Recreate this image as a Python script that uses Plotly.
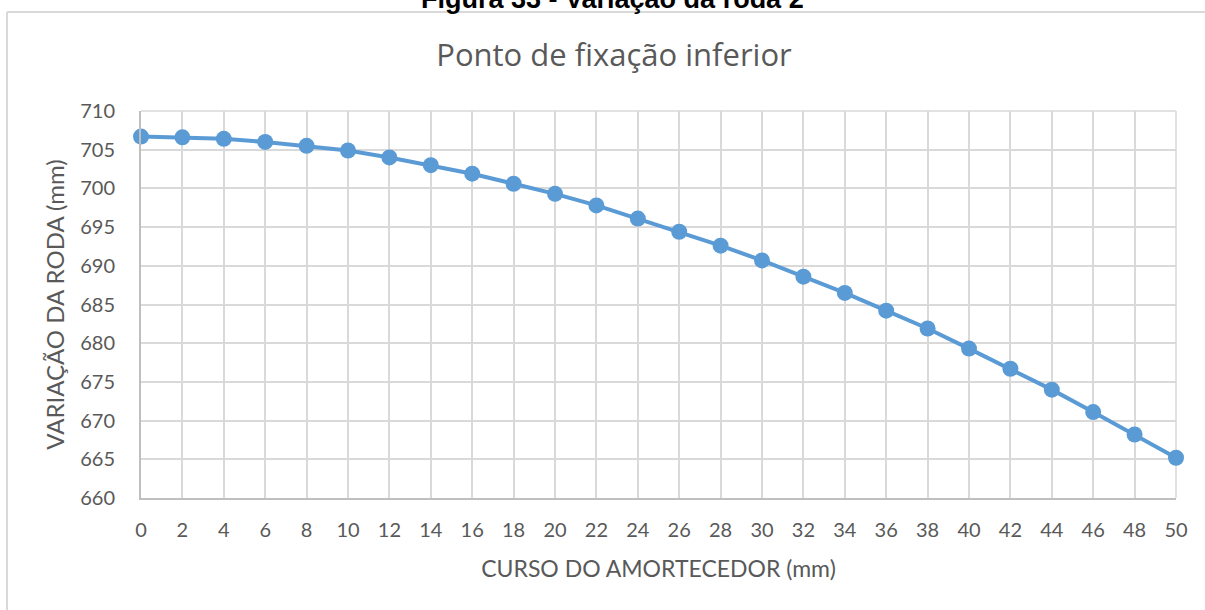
import plotly.graph_objects as go

curso_mm = [0, 2, 4, 6, 8, 10, 12, 14, 16, 18, 20, 22, 24, 26, 28, 30, 32, 34, 36, 38, 40, 42, 44, 46, 48, 50]
variacao_roda_mm = [706.7, 706.6, 706.4, 706.0, 705.5, 704.9, 704.0, 703.0, 701.9, 700.6, 699.3, 697.8, 696.1,
                    694.4, 692.6, 690.7, 688.6, 686.5, 684.2, 681.9, 679.3, 676.7, 674.0, 671.1, 668.2, 665.2]
x_ticks = list(range(0, 51, 2))
y_ticks = list(range(660, 711, 5))

W, H = 1205, 610
L, R, T, B = 141, 29, 111, 112
PW, PH = W - L - R, H - T - B

def px_x(p):
    return (p - L) / PW

def px_y(p):
    return (H - B - p) / PH

GRID = "#d9d9d9"
TXT = "#595959"
FONT = "Lato, 'Open Sans', sans-serif"

fig = go.Figure()
fig.add_trace(go.Scatter(
    x=curso_mm, y=variacao_roda_mm, mode="lines+markers",
    line=dict(color="#5b9bd5", width=4),
    marker=dict(color="#5b9bd5", size=16),
    showlegend=False, cliponaxis=False,
))

fig.update_layout(
    width=W, height=H,
    margin=dict(l=L, r=R, t=T, b=B),
    paper_bgcolor="white", plot_bgcolor="white",
    title=dict(text="Ponto de fixação inferior", x=614 / W, xanchor="center",
               y=1 - 55 / H, yanchor="middle",
               font=dict(family="'Open Sans', sans-serif", size=31, color=TXT)),
    font=dict(family=FONT, color=TXT),
)

fig.update_xaxes(
    range=[0, 50], tickmode="array", tickvals=x_ticks, ticktext=[str(v) for v in x_ticks],
    showgrid=True, gridcolor=GRID, gridwidth=1.5,
    showline=True, linecolor="#bfbfbf", linewidth=2, mirror=False,
    zeroline=False,
    ticks="outside", ticklen=13, tickcolor="rgba(0,0,0,0)",
    tickfont=dict(size=20, color=TXT, family=FONT),
    title=dict(text="CURSO DO AMORTECEDOR (mm)", font=dict(size=23, color=TXT, family=FONT), standoff=21),
)
fig.update_yaxes(
    range=[660, 710], tickmode="array", tickvals=y_ticks, ticktext=[str(v) for v in y_ticks],
    showgrid=True, gridcolor=GRID, gridwidth=1.5,
    showline=True, linecolor="#bfbfbf", linewidth=2,
    zeroline=False,
    ticks="outside", ticklen=20, tickcolor="rgba(0,0,0,0)",
    tickfont=dict(size=20, color=TXT, family=FONT),
    title=dict(text="VARIAÇÃO DA RODA (mm)", font=dict(size=24, color=TXT, family=FONT), standoff=9),
)

# right and top border gridlines of the plot area
fig.add_shape(type="line", xref="paper", yref="paper", x0=1, x1=1, y0=0, y1=1,
              line=dict(color=GRID, width=1.5), layer="below")
fig.add_shape(type="line", xref="paper", yref="paper", x0=0, x1=1, y0=1, y1=1,
              line=dict(color=GRID, width=1.5), layer="below")

# outer chart frame (left and top edges visible)
fig.add_shape(type="line", xref="paper", yref="paper",
              x0=px_x(7), x1=px_x(7), y0=px_y(12), y1=px_y(615),
              line=dict(color=GRID, width=2))
fig.add_shape(type="line", xref="paper", yref="paper",
              x0=px_x(7), x1=px_x(1210), y0=px_y(12), y1=px_y(12),
              line=dict(color=GRID, width=2))

# document caption, cut at the top edge
fig.add_annotation(text="<b>Figura 33 - Variação da roda 2</b>", xref="paper", yref="paper",
                   x=px_x(612), y=px_y(-1), xanchor="center", yanchor="middle",
                   showarrow=False,
                   font=dict(family="Liberation Sans, Arial, sans-serif", size=27, color="black"))

fig.write_html("out.html", config={"displayModeBar": False},
               post_script="document.body.style.margin='0';document.body.style.overflow='hidden';")
